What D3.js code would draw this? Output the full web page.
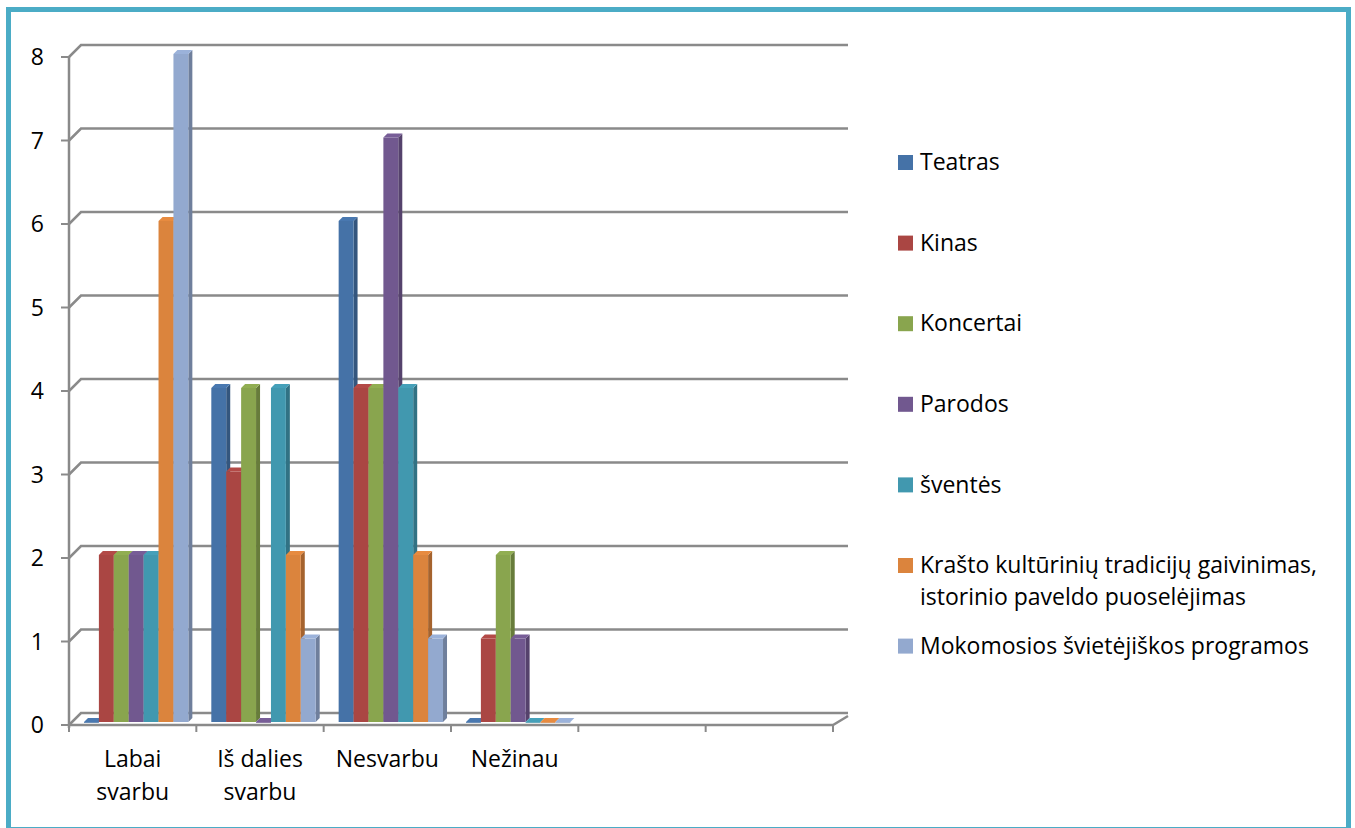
<!DOCTYPE html>
<html><head><meta charset="utf-8">
<script src="https://cdn.jsdelivr.net/npm/d3@7"></script>
<style>html,body{margin:0;padding:0;background:#fff;}svg{display:block;}</style>
</head><body>
<svg id="chart" width="1355" height="828"></svg>
<script>
// ---- data ----
const categories = [["Labai", "svarbu"], ["Iš dalies", "svarbu"], ["Nesvarbu"], ["Nežinau"], [""], [""]];
const seriesNames = [["Teatras"], ["Kinas"], ["Koncertai"], ["Parodos"], ["šventės"],
  ["Krašto kultūrinių tradicijų gaivinimas,", "istorinio paveldo puoselėjimas"], ["Mokomosios švietėjiškos programos"]];
const seriesColors = ["#4572A7", "#AA4643", "#89A54E", "#71588F", "#4198AF", "#DB843D", "#93A9CF"];
const teatras    = [0, 4, 6, 0];
const kinas      = [2, 3, 4, 1];
const koncertai  = [2, 4, 4, 2];
const parodos    = [2, 0, 7, 1];
const sventes    = [2, 4, 4, 0];
const krastas    = [6, 2, 2, 0];
const mokomosios = [8, 1, 1, 0];
const yTicks = [0, 1, 2, 3, 4, 5, 6, 7, 8];

const seriesValues = [teatras, kinas, koncertai, parodos, sventes, krastas, mokomosios];

// ---- layout ----
const svg = d3.select("#chart");
const font = "'Open Sans', sans-serif";
const fs = 23;
const gridColor = "#8a8a8a";
const depthX = 12, depthY = 12;   // wall/floor depth
const barD = 4;                    // bar depth

const x0 = d3.scaleBand().domain(d3.range(categories.length)).range([69, 833]);
const x1 = d3.scaleBand().domain(d3.range(seriesNames.length)).range([0, x0.bandwidth()]).paddingOuter(0.77);
const y = d3.scaleLinear().domain([0, 8]).range([722, 54]);
const frontY = v => y(v) + 3;

// frame
svg.append("rect").attr("x", 8.5).attr("y", 9.5).attr("width", 1340).attr("height", 820)
  .attr("fill", "none").attr("stroke", "#4BACC6").attr("stroke-width", 5);

const grid = svg.append("g");
// gridlines (back wall + side slant)
yTicks.forEach(v => {
  const fy = frontY(v), by = fy - depthY;
  grid.append("path")
    .attr("d", `M${x0.range()[0]},${fy} L${x0.range()[0] + depthX},${by} L${x0.range()[1] + 15},${by}`)
    .attr("fill", "none").attr("stroke", gridColor).attr("stroke-width", 2.5);
  grid.append("line").attr("x1", 61).attr("x2", 69).attr("y1", fy).attr("y2", fy)
    .attr("stroke", gridColor).attr("stroke-width", 2);
  svg.append("text").attr("x", 44).attr("y", fy).attr("dy", "0.36em")
    .attr("text-anchor", "end").attr("font-family", font).attr("font-size", fs).attr("fill", "#000")
    .text(v);
});
// vertical axis
grid.append("line").attr("x1", 69).attr("x2", 69).attr("y1", frontY(8)).attr("y2", frontY(0) + 3)
  .attr("stroke", gridColor).attr("stroke-width", 2.5);
// floor front edge and right slant
const f0 = frontY(0);
grid.append("path")
  .attr("d", `M69,${f0} L${x0.range()[1]},${f0} L${x0.range()[1] + 15},${f0 - depthY + 3}`)
  .attr("fill", "none").attr("stroke", gridColor).attr("stroke-width", 2.5);
// x ticks
d3.range(categories.length + 1).forEach(i => {
  const xx = i < categories.length ? x0(i) : x0.range()[1];
  grid.append("line").attr("x1", xx).attr("x2", xx).attr("y1", f0).attr("y2", f0 + 7)
    .attr("stroke", gridColor).attr("stroke-width", 2);
});
// x labels
categories.forEach((lines, i) => {
  const t = svg.append("text").attr("text-anchor", "middle").attr("font-family", font)
    .attr("font-size", fs).attr("fill", "#000");
  lines.forEach((ln, j) => {
    t.append("tspan").attr("x", x0(i) + x0.bandwidth() / 2).attr("y", 767 + j * 33).text(ln);
  });
});

// bars
const bars = svg.append("g");
const shift = 3.5;
d3.range(categories.length).forEach(ci => {
  seriesValues.forEach((vals, si) => {
    if (ci >= vals.length) return;
    const v = vals[ci];
    const c = d3.color(seriesColors[si]);
    const bx = x0(ci) + x1(si) + shift;
    const w = x1.bandwidth();
    const top = y(v), bot = y(0);
    const g = bars.append("g");
    // side
    g.append("path").attr("d", `M${bx + w},${bot} L${bx + w},${top} L${bx + w + barD},${top - barD} L${bx + w + barD},${bot - barD}Z`)
      .attr("fill", c.darker(0.8));
    // front
    g.append("rect").attr("x", bx).attr("y", top).attr("width", w).attr("height", Math.max(bot - top, 0.8))
      .attr("fill", c);
    // top
    g.append("path").attr("d", `M${bx},${top} L${bx + barD},${top - barD} L${bx + w + barD},${top - barD} L${bx + w},${top}Z`)
      .attr("fill", c.brighter(0.15));
  });
});

// legend
const legend = svg.append("g");
seriesNames.forEach((lines, i) => {
  const cy = 162 + i * 80.6;
  legend.append("rect").attr("x", 898).attr("y", cy - 7).attr("width", 15).attr("height", 15)
    .attr("fill", seriesColors[i]);
  const t = legend.append("text").attr("font-family", font).attr("font-size", fs).attr("fill", "#000");
  lines.forEach((ln, j) => {
    t.append("tspan").attr("x", 920).attr("y", cy + j * 32).attr("dy", "0.36em").text(ln);
  });
});
</script>
</body></html>
